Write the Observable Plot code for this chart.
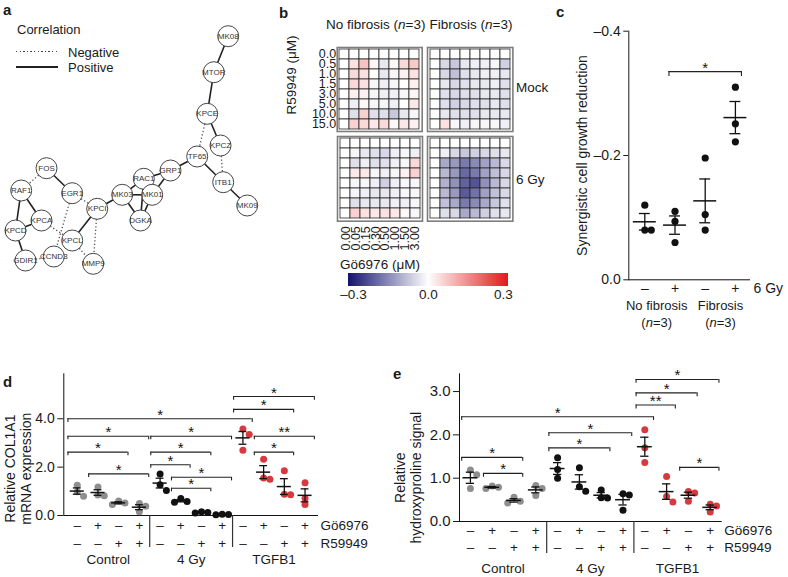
<!DOCTYPE html>
<html><head><meta charset="utf-8">
<script src="https://cdn.jsdelivr.net/npm/d3@7"></script>
<script src="https://cdn.jsdelivr.net/npm/@observablehq/plot@0.6"></script>
<style>
body{margin:0;background:#fff;}
#fig{position:relative;width:788px;height:577px;overflow:hidden;font-family:"Liberation Sans",Arial,Helvetica,sans-serif;color:#1a1a1a;}
.lbl{position:absolute;white-space:nowrap;font-size:13.5px;line-height:1;}
.pl{position:absolute;font-weight:bold;font-size:15px;line-height:1;}
</style></head><body><div id="fig"></div>
<script>
// ---------- DATA ----------
// Panel a: network
const nodeNames = ["MK08","MTOR","KPCE","KPCZ","TF65","ITB1","MK09","GRP1","RAC1","MK01","MK03","DGKA","KPCI","KPCL","MMP9","CCND3","EGR1","FOS","RAF1","KPCA","KPCD","GDIR1"];
const nodeX = [227.7,213.3,206.7,220,196.7,222.7,246.7,170,143.3,151.7,121.7,140,96.7,71.7,92.7,53.3,71.7,46,20.7,41,15,25];
const nodeY = [35.7,71.7,113.3,145,156,181.7,205,170,178.3,194.3,194.3,220,208.3,240,263.3,256,192.7,167.7,190,220,230,260];
const edgeSource = ["MK08","MTOR","KPCE","TF65","ITB1","TF65","GRP1","GRP1","RAC1","RAC1","RAC1","MK03","MK03","MK01","MK03","KPCI","FOS","RAF1","RAF1","KPCA","KPCD","KPCE","KPCZ","FOS","EGR1","EGR1","KPCA","KPCI","KPCL","GDIR1"];
const edgeTarget = ["MTOR","KPCE","KPCZ","ITB1","MK09","GRP1","RAC1","MK01","MK03","MK01","DGKA","MK01","DGKA","DGKA","KPCI","KPCL","EGR1","KPCD","KPCA","KPCD","GDIR1","TF65","ITB1","RAF1","KPCI","CCND3","KPCL","MMP9","MMP9","CCND3"];
const edgeSign = ["Positive","Positive","Positive","Positive","Positive","Positive","Positive","Positive","Positive","Positive","Positive","Positive","Positive","Positive","Positive","Positive","Positive","Positive","Positive","Positive","Positive","Negative","Negative","Negative","Negative","Negative","Negative","Negative","Negative","Negative"];

// Panel b: heatmaps (rows: R59949, columns: Gö6976)
const goConc = ["0.00","0.05","0.15","0.30","0.50","1.00","1.50","3.00"];
const rConc = ["0.0","0.5","1.0","1.5","3.0","5.0","10.0","15.0"];
const noFibMock = [
 [0,0,0,0,0,0,0,0],
 [0,0.04,0.08,0.01,-0.03,0.01,0.05,0.07],
 [0,0.05,0.04,0.00,-0.03,-0.01,0.02,0.04],
 [0,0.05,0.04,-0.01,-0.02,-0.01,0.00,0.02],
 [0,0.02,0.02,-0.01,-0.02,-0.02,-0.01,0.01],
 [0,-0.02,0.01,-0.01,-0.01,-0.02,0.00,0.03],
 [0,-0.04,0.06,-0.04,-0.04,-0.07,-0.03,-0.01],
 [0,0.06,0.05,0.03,0.05,0.01,0.03,0.02]];
const fibMock = [
 [0,0,0,0,0,0,0,0],
 [0,-0.05,-0.07,-0.03,-0.02,-0.02,-0.01,-0.06],
 [0,-0.05,-0.08,-0.04,-0.03,-0.02,-0.02,-0.03],
 [0,-0.03,-0.05,-0.04,-0.03,-0.03,-0.02,-0.04],
 [0,-0.04,-0.05,-0.04,-0.04,-0.03,-0.03,-0.04],
 [0,-0.04,-0.06,-0.05,-0.04,-0.04,-0.03,-0.04],
 [0,-0.03,-0.04,-0.04,-0.04,-0.03,-0.03,-0.03],
 [0,0.04,-0.01,-0.02,-0.01,-0.01,-0.01,-0.02]];
const noFib6Gy = [
 [0,0,0,0,0,0,0,0],
 [0,-0.01,-0.03,-0.04,-0.05,-0.02,-0.01,-0.02],
 [0,-0.04,-0.02,-0.04,-0.04,-0.02,-0.01,0.05],
 [0,0.03,0.03,-0.01,-0.02,-0.01,0.02,0.06],
 [0,-0.01,-0.01,-0.02,-0.06,-0.02,-0.01,-0.01],
 [0,-0.01,-0.02,-0.03,-0.03,-0.02,-0.01,-0.01],
 [0,-0.04,-0.03,-0.03,-0.03,-0.02,-0.02,-0.01],
 [0,0.06,0.04,0.03,0.04,0.03,0.01,-0.01]];
const fib6Gy = [
 [0,0,0,0,0,0,0,0],
 [0,-0.02,-0.05,-0.07,-0.06,-0.05,-0.04,-0.03],
 [0,-0.11,-0.13,-0.17,-0.15,-0.12,-0.09,-0.05],
 [0,-0.09,-0.13,-0.19,-0.17,-0.12,-0.08,-0.05],
 [0,-0.10,-0.14,-0.20,-0.22,-0.14,-0.09,-0.05],
 [0,-0.09,-0.13,-0.21,-0.18,-0.12,-0.08,-0.05],
 [0,-0.08,-0.11,-0.17,-0.15,-0.11,-0.07,-0.04],
 [0,-0.04,-0.05,-0.11,-0.09,-0.06,-0.04,-0.03]];
const colorTicks = [-0.3, 0, 0.3];

// Panel c
const cIrradiation = ["–","+","–","+"];
const cPoints = [[-0.12,-0.08,-0.08],[-0.11,-0.094,-0.06],[-0.196,-0.105,-0.08],[-0.31,-0.251,-0.222]];
const cBracketFrom = [1], cBracketTo = [3], cBracketLevel = [-0.335], cBracketLabel = ["*"];

// Panel d
const groups = ["Control","4 Gy","TGFB1"];
const groupColors = ["#8e8e8e","#111111","#d8393f"];
const goRow = ["–","+","–","+","–","+","–","+","–","+","–","+"];
const rRow  = ["–","–","+","+","–","–","+","+","–","–","+","+"];
const dValues = [[1.25,0.98,0.80],[1.18,0.85,0.82],[0.60,0.52,0.45],[0.50,0.38,0.15],
                 [1.72,1.27,1.03],[0.70,0.58,0.55],[0.15,0.12,0.10],[0.05,0.04,0.03],
                 [3.58,3.35,2.70],[2.33,1.55,1.50],[1.85,0.88,0.86],[1.35,0.70,0.45]];
const dBracketFrom  = [0,0,4,0,4,4,1,5,5,8,8,9,9];
const dBracketTo    = [8,3,7,2,6,5,3,7,6,11,10,11,10];
const dBracketLevel = [4.0,3.28,3.28,2.62,2.62,2.10,1.72,1.58,1.13,4.92,4.39,3.28,2.62];
const dBracketLabel = ["*","*","*","*","*","*","*","*","*","*","*","**","*"];

// Panel e
const eValues = [[1.19,1.08,0.76],[0.82,0.79,0.76],[0.56,0.47,0.43],[0.83,0.76,0.60],
                 [1.47,1.20,1.00],[1.24,0.80,0.70],[0.73,0.55,0.54],[0.64,0.61,0.26],
                 [2.12,1.70,1.36],[1.04,0.58,0.45],[0.69,0.66,0.47],[0.40,0.36,0.22]];
const eBracketFrom  = [0,4,4,0,1,8,8,8,10];
const eBracketTo    = [8,7,6,2,2,11,10,9,11];
const eBracketLevel = [2.42,2.05,1.70,1.48,1.11,3.28,2.97,2.69,1.25];
const eBracketLabel = ["*","*","*","*","*","*","*","**","*"];

// ---------- HELPERS ----------
const FONT = '"Liberation Sans", Arial, Helvetica, sans-serif';
const fig = document.getElementById("fig");
function put(node, left, top){ node.style.position="absolute"; node.style.left=left+"px"; node.style.top=top+"px"; fig.appendChild(node); return node; }
function label(htmlText, cx, cy, extra){ const d=document.createElement("div"); d.className="lbl"; d.innerHTML=htmlText; Object.assign(d.style, extra||{}); if(!d.style.transform) d.style.transform="translate(-50%,-50%)"; return put(d, cx, cy); }
function panelLetter(t, left, top){ const d=document.createElement("div"); d.className="pl"; d.textContent=t; return put(d,left,top); }
function baseStyle(fs){ return {background:"none", fontFamily:FONT, fontSize:fs, overflow:"visible", color:"#1a1a1a"}; }

const colorScale = {type:"linear", domain:[-0.3,0,0.3], range:["#14146e","#ffffff","#e01b1b"], clamp:true};

function dodge(vals, pxU, pxI, r){
  const order = d3.range(vals.length).sort((a,b)=>vals[b]-vals[a]);
  const placed = [], off = new Array(vals.length).fill(0);
  for (const i of order){
    const yp = vals[i]*pxU;
    for (const k of [0,1,-1,2,-2]){
      const xp = k*r*1.8;
      if (placed.every(p => Math.hypot(p[0]-xp, p[1]-yp) >= r*1.7)){ off[i]=xp/pxI; placed.push([xp,yp]); break; }
    }
  }
  return off;
}
function groupMarks(values, colorOf, pxU, pxI, r, meanHalf, capHalf){
  const pts=[], stats=[];
  values.forEach((vals,i)=>{
    const off = dodge(vals, pxU, pxI, r);
    vals.forEach((v,k)=>pts.push({x:i+off[k], y:v, c:colorOf(i)}));
    const m=d3.mean(vals), se=d3.deviation(vals)/Math.sqrt(vals.length);
    stats.push({i, m, lo:m-se, hi:m+se});
  });
  return [
    Plot.dot(pts,{x:"x",y:"y",r,fill:"c",stroke:"none"}),
    Plot.ruleY(stats,{x1:d=>d.i-meanHalf,x2:d=>d.i+meanHalf,y:"m",stroke:"#111",strokeWidth:1.5}),
    Plot.ruleX(stats,{x:"i",y1:"lo",y2:"hi",stroke:"#111",strokeWidth:1.3}),
    Plot.ruleY(stats,{x1:d=>d.i-capHalf,x2:d=>d.i+capHalf,y:"hi",stroke:"#111",strokeWidth:1.3}),
    Plot.ruleY(stats,{x1:d=>d.i-capHalf,x2:d=>d.i+capHalf,y:"lo",stroke:"#111",strokeWidth:1.3})
  ];
}
function bracketMarks(from,to,level,lab,ext,drop){
  const br = from.map((f,i)=>({x1:f-ext, x2:to[i]+ext, y:level[i], t:lab[i]}));
  return [
    Plot.ruleY(br,{x1:"x1",x2:"x2",y:"y",stroke:"#222",strokeWidth:1.1}),
    Plot.ruleX(br,{x:"x1",y1:"y",y2:d=>d.y-drop,stroke:"#222",strokeWidth:1.1}),
    Plot.ruleX(br,{x:"x2",y1:"y",y2:d=>d.y-drop,stroke:"#222",strokeWidth:1.1}),
    Plot.text(br,{x:d=>(d.x1+d.x2)/2,y:"y",text:"t",lineAnchor:"bottom",fontSize:15,dy:1,fill:"#111"})
  ];
}

// ---------- PANEL A ----------
{
  const nodes = nodeNames.map((n,i)=>({n, x:nodeX[i], y:nodeY[i]}));
  const byName = new Map(nodes.map(d=>[d.n,d]));
  const edges = edgeSource.map((s,i)=>({s:byName.get(s), t:byName.get(edgeTarget[i]), sign:edgeSign[i]}));
  const p = Plot.plot({
    width:262, height:290, margin:0,
    style: baseStyle("8px"),
    x:{domain:[0,262], range:[0,262], axis:null},
    y:{domain:[0,290], range:[0,290], axis:null},
    marks:[
      Plot.link(edges.filter(e=>e.sign==="Negative"),{x1:d=>d.s.x,y1:d=>d.s.y,x2:d=>d.t.x,y2:d=>d.t.y,stroke:"#555",strokeWidth:1.3,strokeDasharray:"1.3,2.2"}),
      Plot.link(edges.filter(e=>e.sign==="Positive"),{x1:d=>d.s.x,y1:d=>d.s.y,x2:d=>d.t.x,y2:d=>d.t.y,stroke:"#222",strokeWidth:1.6}),
      Plot.dot(nodes,{x:"x",y:"y",r:10.5,fill:"white",stroke:"#444",strokeWidth:1}),
      Plot.text(nodes,{x:"x",y:"y",text:"n",fontSize:8,fill:"#333"})
    ]
  });
  put(p,0,0);
  panelLetter("a",3,2);
  label("Correlation",17,29,{transform:"translate(0,-50%)",fontSize:"13px"});
  const neg=document.createElement("div"); Object.assign(neg.style,{width:"42px",height:"1.4px",background:"repeating-linear-gradient(to right,#444 0 1.4px,transparent 1.4px 3.6px)"}); put(neg,16,51);
  const pos=document.createElement("div"); Object.assign(pos.style,{width:"42px",height:"1.5px",background:"#222"}); put(pos,16,66);
  label("Negative",68,52,{transform:"translate(0,-50%)",fontSize:"13px"});
  label("Positive",68,67,{transform:"translate(0,-50%)",fontSize:"13px"});
}

// ---------- PANEL B ----------
function heat(values, w, h, ml, mb, showX, showY){
  const cells=[];
  values.forEach((row,i)=>row.forEach((v,j)=>cells.push({r:rConc[i], g:goConc[j], v})));
  return Plot.plot({
    width:w, height:h, marginLeft:ml, marginRight:0, marginTop:0, marginBottom:mb,
    style: baseStyle("12.5px"),
    x:{type:"band", domain:goConc, padding:0, axis: showX ? "bottom" : null, tickSize:0, tickPadding:5, tickRotate:-90, label:null},
    y:{type:"band", domain:rConc, padding:0, axis: showY ? "left" : null, tickSize:0, tickPadding:1, label:null},
    color: colorScale,
    marks:[
      Plot.cell(cells,{x:"g",y:"r",fill:"v",stroke:"#2a2a2a",strokeWidth:0.8,inset:0}),
      Plot.frame({stroke:"#7d7d7d",strokeWidth:1.6})
    ]
  });
}
put(heat(noFibMock, 36.7+85, 84, 36.7, 0, false, true), 300, 46.7);
put(heat(fibMock, 85.4, 84, 0, 0, false, false), 427.3, 46.7);
put(heat(noFib6Gy, 85, 84.7+36, 0, 36, true, false), 336.7, 136);
put(heat(fib6Gy, 85.4, 84.7, 0, 0, false, false), 427.3, 136);
{
  const leg = Plot.legend({color:{...colorScale, domain:[-0.32,0,0.32]}, width:200, height:33, marginLeft:20, marginRight:20, marginTop:0, marginBottom:20,
    label:null, ticks:colorTicks, tickSize:0, tickFormat:d=>d<0?"–"+Math.abs(d).toFixed(1):d.toFixed(1), style:{fontSize:"13.5px",fontFamily:FONT,background:"none",overflow:"visible"}});
  leg.querySelectorAll(".tick line, .domain").forEach(l=>l.remove());
  put(leg,328,273.3);
}
panelLetter("b",279,5);
label("No fibrosis (<i>n</i>=3)",375.8,25);
label("Fibrosis (<i>n</i>=3)",471,25);
label("R59949 (μM)",291.5,75,{transform:"translate(-50%,-50%) rotate(-90deg)"});
label("Mock",516,88,{transform:"translate(0,-50%)"});
label("6 Gy",516,180,{transform:"translate(0,-50%)"});
label("Gö6976 (μM)",380,265);

// ---------- PANEL C ----------
{
  const W=228,H=300,mt=30.7,mb=20.7,ml=68.3,mr=38, xd=[-0.53,3.5], yd=[0,-0.4];
  const pxU=(H-mt-mb)/Math.abs(yd[1]-yd[0]), pxI=(W-ml-mr)/(xd[1]-xd[0]);
  const p = Plot.plot({
    width:W, height:H, marginTop:mt, marginBottom:mb, marginLeft:ml, marginRight:mr,
    style: baseStyle("14px"),
    x:{domain:xd, axis:null},
    y:{domain:yd, ticks:[-0.4,-0.2,0], tickFormat:d=>d<0?"–"+Math.abs(d).toFixed(1):d.toFixed(1), tickSize:5, tickPadding:3, line:true, label:null},
    marks:[
      Plot.ruleY([0],{stroke:"#111"}),
      ...groupMarks(cPoints, ()=>"#111", pxU, pxI, 3.6, 0.38, 0.18),
      ...bracketMarks(cBracketFrom,cBracketTo,cBracketLevel,cBracketLabel,0.2,-0.008),
      Plot.text(d3.range(cIrradiation.length),{x:d=>d,frameAnchor:"bottom",dy:9,text:d=>cIrradiation[d],lineAnchor:"middle"}),
      Plot.text(["6 Gy"],{frameAnchor:"bottom-right",dx:3,dy:9,textAnchor:"start",lineAnchor:"middle"}),
      Plot.text(["Synergistic cell growth reduction"],{frameAnchor:"left",rotate:-90,dx:-46.6,textAnchor:"middle",lineAnchor:"middle",fontSize:14})
    ]
  });
  put(p,560,0);
  panelLetter("c",556,4);
  label("No fibrosis",656.7,305,{fontSize:"13px"});
  label("(<i>n</i>=3)",656.7,322,{fontSize:"13px"});
  label("Fibrosis",720.5,305,{fontSize:"13px"});
  label("(<i>n</i>=3)",720.5,322,{fontSize:"13px"});
}

// ---------- PANELS D & E ----------
function dotPanel(cfg){
  const {W,H,mt,mb,ml,mr,xd,yd,ticks,values,brF,brT,brL,brLab,ext,drop,ylab,ylabDx,ylabDy,rowDy,fs} = cfg;
  const pxU=(H-mt-mb)/(yd[1]-yd[0]), pxI=(W-ml-mr)/(xd[1]-xd[0]);
  const per = values.length/groups.length;
  const idx = d3.range(values.length);
  const seps = d3.range(1,groups.length).map(g=>g*per-0.5);
  return Plot.plot({
    width:W, height:H, marginTop:mt, marginBottom:mb, marginLeft:ml, marginRight:mr,
    style: baseStyle("13.5px"),
    x:{domain:xd, axis:null},
    y:{domain:yd, line:true, axis:null},
    marks:[
      Plot.axisY({ticks, tickFormat:".1f", tickSize:6, tickPadding:3, fontSize:fs, label:null}),
      Plot.ruleX([xd[0]],{stroke:"#111"}),
      Plot.ruleY([0],{stroke:"#111"}),
      Plot.ruleX(seps,{x:d=>d,y1:0,y2:-32/pxU,stroke:"#333",strokeWidth:1.2}),
      ...bracketMarks(brF,brT,brL,brLab,ext,drop),
      ...groupMarks(values, i=>groupColors[Math.floor(i/per)], pxU, pxI, 3.5, 0.34, 0.19),
      Plot.text(idx,{x:d=>d,frameAnchor:"bottom",dy:rowDy[0],text:d=>goRow[d],lineAnchor:"middle"}),
      Plot.text(idx,{x:d=>d,frameAnchor:"bottom",dy:rowDy[1],text:d=>rRow[d],lineAnchor:"middle"}),
      Plot.text(["Gö6976"],{frameAnchor:"bottom-right",dx:2,dy:rowDy[0],textAnchor:"start",lineAnchor:"middle"}),
      Plot.text(["R59949"],{frameAnchor:"bottom-right",dx:2,dy:rowDy[1],textAnchor:"start",lineAnchor:"middle"}),
      Plot.text(groups,{x:(d,i)=>i*per+(per-1)/2,frameAnchor:"bottom",dy:rowDy[2],lineAnchor:"middle"}),
      Plot.text([ylab],{frameAnchor:"left",rotate:-90,dx:ylabDx,dy:ylabDy,textAnchor:"middle",lineAnchor:"middle",lineHeight:1.1,fontSize:14})
    ]
  });
}
put(dotPanel({W:390,H:217,mt:13.3,mb:62,ml:63.3,mr:72,xd:[-0.65,11.65],yd:[0,5.86],ticks:[0,2,4],
  values:dValues,brF:dBracketFrom,brT:dBracketTo,brL:dBracketLevel,brLab:dBracketLabel,ext:0.45,drop:0.15,
  ylab:"Relative COL1A1\nmRNA expression",ylabDx:-45.8,ylabDy:24,rowDy:[10,28.3,44.3],fs:14}),0,360);
panelLetter("d",3,374);
put(dotPanel({W:398,H:217,mt:13.3,mb:56,ml:69,mr:66.3,xd:[-0.5,11.55],yd:[0,3.41],ticks:[0,1,2,3],
  values:eValues,brF:eBracketFrom,brT:eBracketTo,brL:eBracketLevel,brLab:eBracketLabel,ext:0.4,drop:0.09,
  ylab:"Relative\nhydroxyproline signal",ylabDx:-51.5,ylabDy:30,rowDy:[9,26.3,47.3],fs:15}),390,360);
panelLetter("e",393,366);
</script></body></html>
